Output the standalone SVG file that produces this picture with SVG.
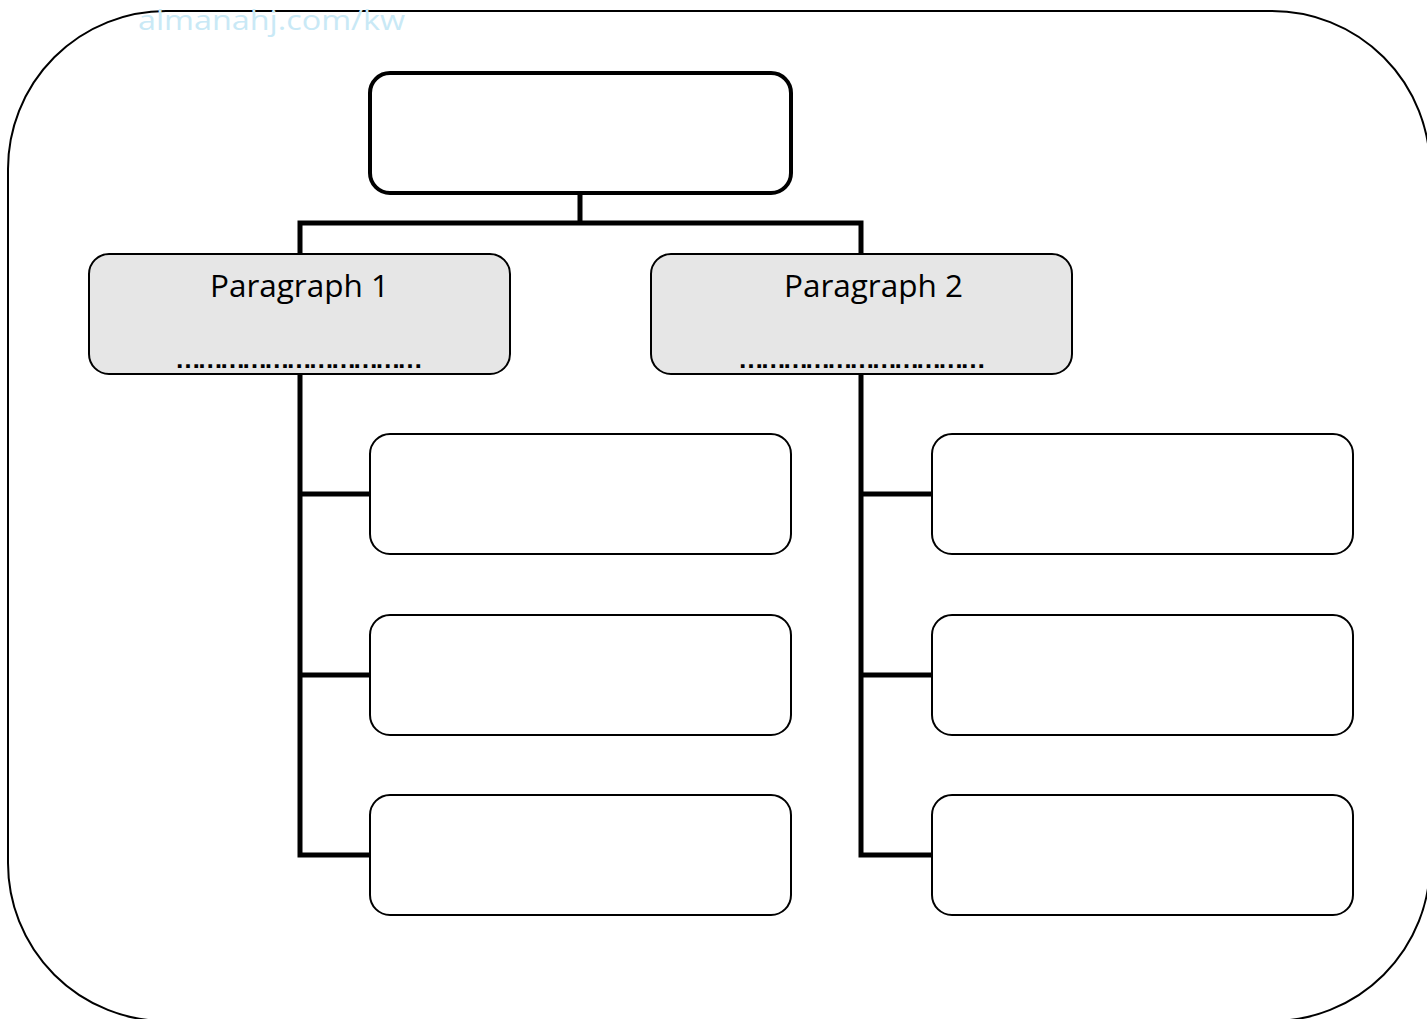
<svg xmlns="http://www.w3.org/2000/svg" width="1427" height="1019" viewBox="0 0 1427 1019">
<style>
.box{fill:#ffffff;stroke:#000000;stroke-width:2}
.grey{fill:#e6e6e6;stroke:#000000;stroke-width:2}
.top{fill:#ffffff;stroke:#000000;stroke-width:4}
.conn{fill:none;stroke:#000000;stroke-width:5;stroke-linejoin:miter}
.lbl{font-family:"Open Sans","Liberation Sans",sans-serif;font-size:31.5px;fill:#000000;text-anchor:middle}
.dots{font-family:"Liberation Sans",sans-serif;font-size:26px;font-weight:bold;fill:#000000;text-anchor:middle}
</style>
<rect width="1427" height="1019" fill="#ffffff"/>
<g id="frame"><rect x="8" y="11" width="1422" height="1010" rx="158" ry="158" fill="none" stroke="#000000" stroke-width="2"/></g>
<g id="watermark"><text x="138" y="30" font-family="Open Sans, Liberation Sans, sans-serif" font-size="27" fill="#c9e9f6" textLength="267" lengthAdjust="spacingAndGlyphs">almanahj.com/kw</text></g>
<g id="connectors">
<path class="conn" d="M580,193 V223 M300,254 V223 H861 V254"/>
<path class="conn" d="M300,374 V855 H370 M300,494 H370 M300,675 H370"/>
<path class="conn" d="M861,374 V855 H932 M861,494 H932 M861,675 H932"/>
</g>
<g id="title"><rect class="top" x="370" y="73" width="421" height="120" rx="20"/></g>
<g id="p1"><rect class="grey" x="89" y="254" width="421" height="120" rx="20"/><text class="lbl" x="299.5" y="297">Paragraph 1</text><text class="dots" x="299" y="368" textLength="248" lengthAdjust="spacing">……………………………</text></g>
<g id="p2"><rect class="grey" x="651" y="254" width="421" height="120" rx="20"/><text class="lbl" x="873.5" y="297">Paragraph 2</text><text class="dots" x="862" y="368" textLength="248" lengthAdjust="spacing">……………………………</text></g>
<g id="c1"><rect class="box" x="370" y="434" width="421" height="120" rx="20"/></g>
<g id="c2"><rect class="box" x="370" y="615" width="421" height="120" rx="20"/></g>
<g id="c3"><rect class="box" x="370" y="795" width="421" height="120" rx="20"/></g>
<g id="c4"><rect class="box" x="932" y="434" width="421" height="120" rx="20"/></g>
<g id="c5"><rect class="box" x="932" y="615" width="421" height="120" rx="20"/></g>
<g id="c6"><rect class="box" x="932" y="795" width="421" height="120" rx="20"/></g>
</svg>
